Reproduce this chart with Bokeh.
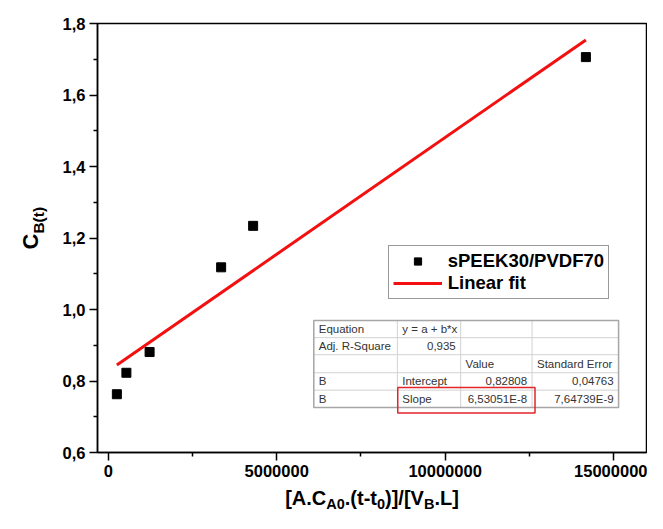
import math
from bokeh.plotting import figure
from bokeh.models import (Range1d, FixedTicker, CustomJSTickFormatter, Label,
                          Legend, LegendItem)
from bokeh.embed import file_html
from bokeh.resources import INLINE

# ---------------- data ----------------
x_vals = [254000, 537000, 1226000, 3350000, 4300000, 14180000]
y_vals = [0.763, 0.823, 0.881, 1.118, 1.234, 1.706]
series_name = "sPEEK30/PVDF70"
fit_name = "Linear fit"
intercept = 0.82808
slope = 6.53051e-8
x_ticks = [0, 5000000, 10000000, 15000000]
x_minor = [2500000, 7500000, 12500000]
y_ticks = [0.6, 0.8, 1.0, 1.2, 1.4, 1.6, 1.8]
y_minor = [0.7, 0.9, 1.1, 1.3, 1.5, 1.7]
table_rows = [
    ["Equation", "y = a + b*x", "", ""],
    ["Adj. R-Square", "0,935", "", ""],
    ["", "", "Value", "Standard Error"],
    ["B", "Intercept", "0,82808", "0,04763"],
    ["B", "Slope", "6,53051E-8", "7,64739E-9"],
]
table_align = [
    ["left", "left", "left", "left"],
    ["left", "right", "left", "left"],
    ["left", "left", "left", "left"],
    ["left", "left", "right", "right"],
    ["left", "left", "right", "right"],
]

fit_x = [min(x_vals), max(x_vals)]
fit_y = [intercept + slope * v for v in fit_x]

# ---------------- layout ----------------
W, H = 647, 513
XS, XE = -321000, 15980000          # plot box data extent
YS, YE = 0.6, 1.8
BOX_L, BOX_R, BOX_T, BOX_B = 97, 646, 23, 452   # plot box in canvas px
kx = (XE - XS) / (BOX_R - BOX_L)
ky = (YE - YS) / (BOX_B - BOX_T)
FXS, FXE = XS - BOX_L * kx, XE + (W - BOX_R) * kx
FYS, FYE = YS - (H - BOX_B) * ky, YE + BOX_T * ky


def rx(ix):   # reference-picture x -> data
    return XS + (ix - 97.3) / 558.4 * (XE - XS)


def ry(iy):   # reference-picture y -> data
    return YS + (458.3 - iy) / 435.6 * (YE - YS)


FONT = "Liberation Sans"

p = figure(width=W, height=H, x_range=Range1d(FXS, FXE), y_range=Range1d(FYS, FYE),
           output_backend="svg", toolbar_location=None,
           min_border_left=0, min_border_right=0, min_border_top=0,
           min_border_bottom=0)
p.xgrid.visible = False
p.ygrid.visible = False
p.outline_line_color = None
p.background_fill_color = "white"
p.border_fill_color = "white"

p.xaxis.fixed_location = YS
p.yaxis.fixed_location = XS
p.xaxis.bounds = (XS, XE)
p.yaxis.bounds = (YS, YE)

for ax in (p.xaxis[0], p.yaxis[0]):
    ax.axis_line_width = 1.5
    ax.major_tick_line_width = 1.5
    ax.minor_tick_line_width = 1.5
    ax.major_tick_in = 0
    ax.major_tick_out = 8
    ax.minor_tick_in = 0
    ax.minor_tick_out = 4
    ax.major_label_text_font = FONT
    ax.major_label_text_font_style = "bold"
    ax.major_label_text_font_size = "16.5px"
    ax.major_label_text_color = "black"
    ax.major_label_standoff = 4

p.xaxis.ticker = FixedTicker(ticks=x_ticks, minor_ticks=x_minor)
p.yaxis.ticker = FixedTicker(ticks=y_ticks, minor_ticks=y_minor)
p.xaxis.formatter = CustomJSTickFormatter(code="return Math.round(tick).toString();")
p.yaxis.formatter = CustomJSTickFormatter(code="return tick.toFixed(1).replace('.', ',');")

# plot box (top / right edges)
p.quad(left=XS, right=XE, bottom=YS, top=YE, fill_alpha=0,
       line_color="black", line_width=1.5)

# ---------------- data marks ----------------
r_ln = p.line(fit_x, fit_y, line_color="#f21010", line_width=3)
r_sc = p.scatter(x_vals, y_vals, marker="square", size=9, color="black")

legend = Legend(items=[LegendItem(label=series_name, renderers=[r_sc]),
                       LegendItem(label=fit_name, renderers=[r_ln])],
                location=((rx(393) - FXS) / kx, (ry(303) - FYS) / ky))
legend.label_text_font = FONT
legend.label_text_font_style = "bold"
legend.label_text_font_size = "18.5px"
legend.label_text_color = "black"
legend.glyph_width = 49
legend.glyph_height = 18
legend.label_height = 18
legend.label_standoff = 6
legend.padding = 4
legend.spacing = 0
legend.margin = 0
legend.border_line_color = "#333333"
legend.border_line_width = 1
legend.background_fill_color = "white"
legend.background_fill_alpha = 1.0
p.add_layout(legend)

# ---------------- fit table ----------------
cols = [317.3, 402.3, 466.7, 539.3, 627.3]
rows = [324.3, 341.7, 359.0, 377.3, 395.0, 412.7]
p.quad(left=rx(cols[0]), right=rx(cols[-1]), top=ry(rows[0]), bottom=ry(rows[-1]),
       fill_color="white", line_color=None)
p.segment(x0=[rx(c) for c in cols[1:-1]], x1=[rx(c) for c in cols[1:-1]],
          y0=[ry(rows[0])] * 3, y1=[ry(rows[-1])] * 3,
          line_color="#d2d2d2", line_width=1)
p.segment(x0=[rx(cols[0])] * 4, x1=[rx(cols[-1])] * 4,
          y0=[ry(r) for r in rows[1:-1]], y1=[ry(r) for r in rows[1:-1]],
          line_color="#d2d2d2", line_width=1)
p.quad(left=rx(cols[0]), right=rx(cols[-1]), top=ry(rows[0]), bottom=ry(rows[-1]),
       fill_alpha=0, line_color="#a6a6a6", line_width=1.5)
for i, row in enumerate(table_rows):
    ymid = (rows[i] + rows[i + 1]) / 2
    for j, txt in enumerate(row):
        if not txt:
            continue
        al = table_align[i][j]
        xpx = cols[j] + 5 if al == "left" else cols[j + 1] - 5
        p.add_layout(Label(x=rx(xpx), y=ry(ymid), text=txt, text_align=al,
                           text_baseline="middle", text_font=FONT,
                           text_font_size="11.5px", text_color="#333333"))
# highlight box
p.quad(left=rx(402.7), right=rx(542.3), top=ry(392.3), bottom=ry(418.3),
       fill_alpha=0, line_color="#e3262b", line_width=1.5)

# ---------------- axis titles (with subscripts) ----------------
AW = {'[': 333, 'A': 722, '.': 278, 'C': 722, '0': 556, '(': 333, 't': 333,
      '-': 333, ')': 333, ']': 333, '/': 278, 'V': 667, 'B': 722, 'L': 611}


def tw(s, size):
    return sum(AW[c] for c in s) * size / 1000.0


BOX_W = BOX_R - BOX_L
MID = 0.35   # baseline sits this many em below the text's middle line

# x title: main baseline 52 px below the plot box, subscripts 5 px lower
xl = [("[A.C", 20, 0), ("A0", 14.5, -5), (".(t-t", 20, 0), ("0", 14.5, -5),
      (")]/[V", 20, 0), ("B", 14.5, -5), (".L]", 20, 0)]
total = sum(tw(s, sz) for s, sz, _ in xl)
cur = BOX_W / 2 - total / 2
for s, sz, dy in xl:
    p.add_layout(Label(x=XS, y=YS, x_offset=cur, y_offset=-52 + dy + MID * sz,
                       text=s, text_align="left", text_baseline="middle",
                       text_font=FONT, text_font_style="bold",
                       text_font_size=f"{sz}px", text_color="black"))
    cur += tw(s, sz)

# y title (rotated): main baseline 59 px left of the box, subscript 5 px lower
yl = [("C", 22, 0), ("B(t)", 15.5, -5)]
cur = 203
for s, sz, dy in yl:
    p.add_layout(Label(x=XS, y=YS, x_offset=-59 - dy - MID * sz, y_offset=cur,
                       text=s, angle=math.pi / 2, text_align="left",
                       text_baseline="middle", text_font=FONT,
                       text_font_style="bold", text_font_size=f"{sz}px",
                       text_color="black"))
    cur += tw(s, sz)

open("out.html", "w").write(file_html(p, INLINE))
